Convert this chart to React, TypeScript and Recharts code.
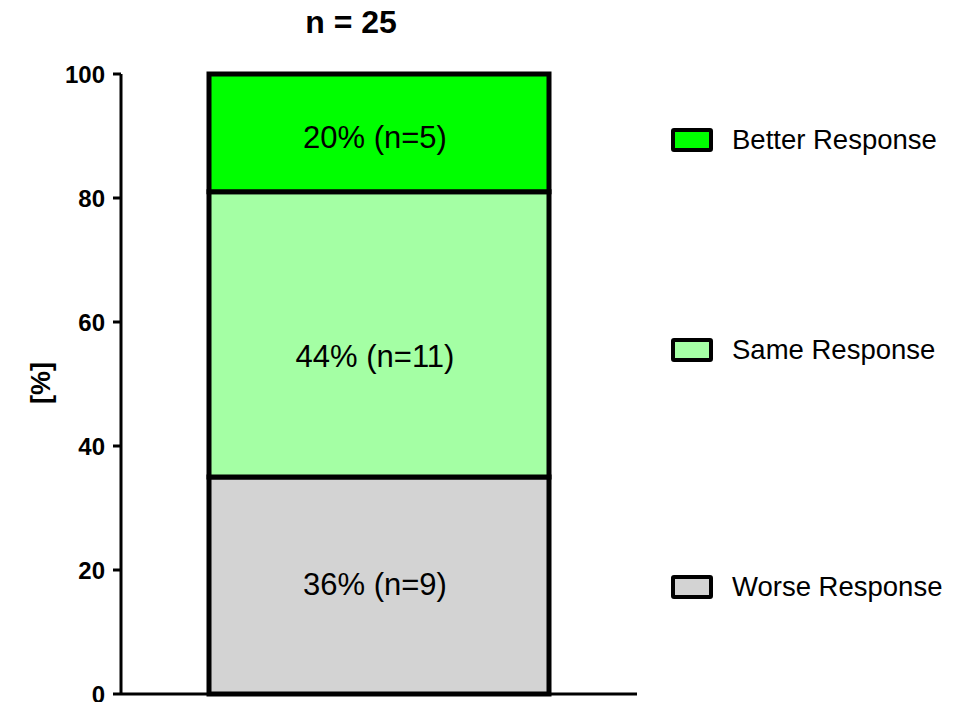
import React from 'react'
import { BarChart, Bar, XAxis, YAxis, Legend, LabelList } from 'recharts'

// chart values
const categories = ['']
const worseValues = [35]
const sameValues = [46]
const betterValues = [19]
const seriesNames = ['Better Response', 'Same Response', 'Worse Response']
const seriesColors = ['#00ff00', '#a4ffa4', '#d3d3d3']
const segmentLabels = ['20% (n=5)', '44% (n=11)', '36% (n=9)']
const yTicks = [0, 20, 40, 60, 80, 100]
const titleText = 'n = 25'
const yLabelText = '[%]'

const FONT = "Arial, 'Liberation Sans', sans-serif"

const data = categories.map((name, i) => ({
  name,
  worse: worseValues[i],
  same: sameValues[i],
  better: betterValues[i],
}))

// legend rows are spread like in the original figure
const legendCenters = [140, 350, 587]

const renderSegmentLabel = (text: string, dy: number) => (props: any) => {
  const { x, y, width, height } = props
  return (
    <text
      x={Number(x) + Number(width) / 2 - 4}
      y={Number(y) + Number(height) / 2 + dy}
      textAnchor="middle"
      dominantBaseline="central"
      fontSize={31}
      fontFamily={FONT}
      fill="#000"
    >
      {text}
    </text>
  )
}

const CustomLegend = () => (
  <div style={{ position: 'relative', width: 300, height: 702 }}>
    {seriesNames.map((name, i) => (
      <div
        key={name}
        style={{
          position: 'absolute',
          left: 0,
          top: legendCenters[i] - 16,
          height: 32,
          display: 'flex',
          alignItems: 'center',
          whiteSpace: 'nowrap',
        }}
      >
        <div
          style={{
            width: 42,
            height: 24,
            boxSizing: 'border-box',
            border: '4px solid #000',
            borderRadius: 3,
            backgroundColor: seriesColors[i],
          }}
        />
        <span style={{ marginLeft: 19, fontSize: 27.5, fontFamily: FONT, color: '#000' }}>{name}</span>
      </div>
    ))}
  </div>
)

export default function App() {
  return (
    <div style={{ position: 'absolute', left: 0, top: 0, width: 973, height: 702, background: '#fff' }}>
      <div
        style={{
          position: 'absolute',
          left: 251,
          width: 200,
          top: 5,
          textAlign: 'center',
          fontFamily: FONT,
          fontWeight: 'bold',
          fontSize: 32,
          lineHeight: '34px',
          color: '#000',
        }}
      >
        {titleText}
      </div>
      <BarChart
        width={973}
        height={702}
        data={data}
        margin={{ top: 74, right: 336, left: 0, bottom: 7 }}
      >
        <XAxis
          dataKey="name"
          height={1}
          tick={false}
          tickLine={false}
          axisLine={{ stroke: '#000', strokeWidth: 3 }}
        />
        <YAxis
          type="number"
          domain={[0, 100]}
          ticks={yTicks}
          width={121}
          interval={0}
          tickSize={8}
          tickMargin={8}
          axisLine={{ stroke: '#000', strokeWidth: 3 }}
          tickLine={{ stroke: '#000', strokeWidth: 3 }}
          tick={{ fill: '#000', fontSize: 24, fontWeight: 'bold', fontFamily: FONT }}
          label={() => (
            <text
              x={41}
              y={383}
              transform="rotate(-90 41 383)"
              textAnchor="middle"
              dominantBaseline="central"
              fontSize={27}
              fontWeight="bold"
              fontFamily={FONT}
              fill="#000"
            >
              {yLabelText}
            </text>
          )}
        />
        <Legend
          layout="horizontal"
          verticalAlign="middle"
          align="center"
          content={() => <CustomLegend />}
          wrapperStyle={{ left: 671, top: 0, width: 300, height: 702 }}
        />
        <Bar dataKey="worse" name={seriesNames[2]} stackId="a" fill={seriesColors[2]} stroke="#000" strokeWidth={5} barSize={340} isAnimationActive={false}>
          <LabelList dataKey="worse" content={renderSegmentLabel(segmentLabels[2], -1)} />
        </Bar>
        <Bar dataKey="same" name={seriesNames[1]} stackId="a" fill={seriesColors[1]} stroke="#000" strokeWidth={5} barSize={340} isAnimationActive={false}>
          <LabelList dataKey="same" content={renderSegmentLabel(segmentLabels[1], 22)} />
        </Bar>
        <Bar dataKey="better" name={seriesNames[0]} stackId="a" fill={seriesColors[0]} stroke="#000" strokeWidth={5} barSize={340} isAnimationActive={false}>
          <LabelList dataKey="better" content={renderSegmentLabel(segmentLabels[0], 5)} />
        </Bar>
      </BarChart>
    </div>
  )
}
